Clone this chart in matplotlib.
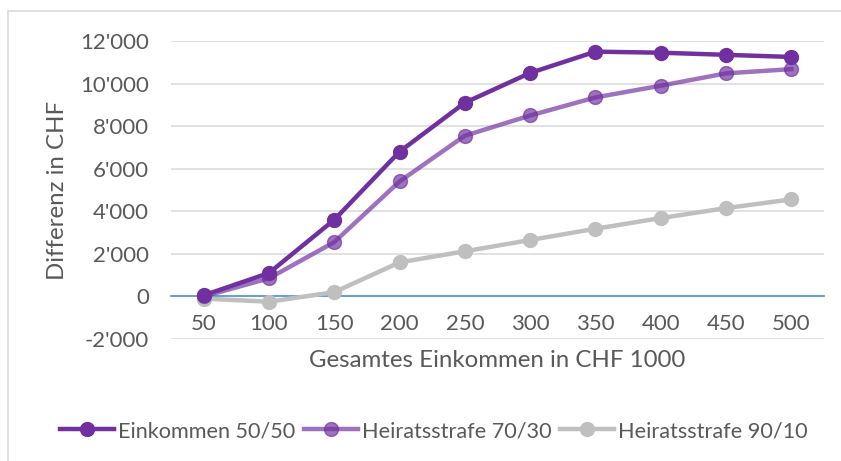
import matplotlib
matplotlib.use('Agg')
import matplotlib.pyplot as plt
from matplotlib.patches import Rectangle
from matplotlib.ticker import FuncFormatter

plt.rcParams['font.family'] = ['Lato', 'DejaVu Sans']

income = [50, 100, 150, 200, 250, 300, 350, 400, 450, 500]
eink_50_50 = [50, 1100, 3600, 6800, 9100, 10500, 11500, 11450, 11350, 11250]
strafe_70_30 = [0, 850, 2550, 5400, 7550, 8500, 9350, 9900, 10480, 10680]
strafe_90_10 = [-100, -250, 200, 1600, 2120, 2650, 3180, 3680, 4150, 4560]
yticks = [-2000, 0, 2000, 4000, 6000, 8000, 10000, 12000]

W, H = 841, 461
fig = plt.figure(figsize=(W / 100, H / 100), dpi=100)
ax = fig.add_axes([171 / W, (H - 339) / H, 653 / W, 298 / H])

# outer chart border (Excel style, clipped by the image)
fig.patches.append(Rectangle((8 / W, -0.1), 1.2, (H - 11) / H + 0.1, transform=fig.transFigure,
                             fill=False, ec='#D9D9D9', lw=1.2))

x = list(range(len(income)))
ax.plot(x, eink_50_50, '-o', color='#7030A0', lw=3.2, ms=10, label='Einkommen 50/50', zorder=5)
ax.plot(x, strafe_70_30, '-o', color='#7030A0', alpha=0.68, lw=3.2, ms=10,
        label='Heiratsstrafe 70/30', zorder=4)
ax.plot(x, strafe_90_10, '-o', color='#BFBFBF', lw=3.2, ms=10, label='Heiratsstrafe 90/10', zorder=3)

ax.set_xlim(-0.5, len(income) - 0.5)
ax.set_ylim(-2000, 12000)
ax.set_yticks(yticks)
ax.yaxis.set_major_formatter(FuncFormatter(lambda v, p: f"{int(v):,}".replace(',', "'")))
ax.set_xticks(x)
ax.set_xticklabels([str(v) for v in income])
ax.grid(axis='y', color='#D9D9D9', lw=1.1)
ax.set_axisbelow(True)
for s in ['top', 'right', 'left']:
    ax.spines[s].set_visible(False)
ax.spines['bottom'].set_position(('data', 0))
ax.spines['bottom'].set_color('#5B9BD5')
ax.spines['bottom'].set_linewidth(1.3)
ax.tick_params(axis='both', length=0, labelsize=16, colors='#595959')
ax.tick_params(axis='x', pad=13)
ax.tick_params(axis='y', pad=16)

fig.text(497 / W, 1 - 360 / H, 'Gesamtes Einkommen in CHF 1000', ha='center', va='center',
         fontsize=17.3, color='#595959')
fig.text(58 / W, 1 - 190 / H, 'Differenz in CHF', ha='center', va='center', rotation=90,
         fontsize=17.3, color='#595959')

leg = fig.legend(loc='center', bbox_to_anchor=(434 / W, 1 - 431 / H), ncol=3, frameon=False,
                 fontsize=15.6, handlelength=2.5, columnspacing=0.37, handletextpad=0.2, borderpad=0)
for t in leg.get_texts():
    t.set_color('#595959')

fig.savefig('out.png', dpi=100)
